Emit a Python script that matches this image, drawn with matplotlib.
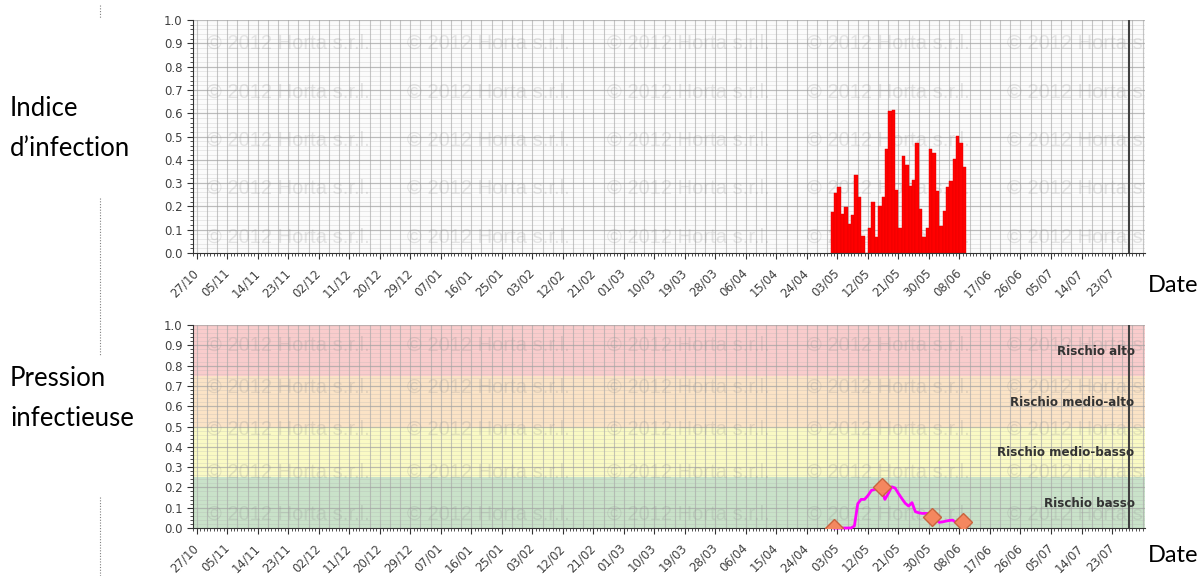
import matplotlib
matplotlib.use("Agg")
import matplotlib.pyplot as plt
import matplotlib.dates as mdates
import numpy as np
from matplotlib.lines import Line2D
from datetime import datetime, timedelta

# ---- data ----
bar_start = "2012-05-01"
infection_index = [0.177, 0.259, 0.282, 0.166, 0.196, 0.124, 0.164, 0.333, 0.240, 0.073,
                   0.0, 0.107, 0.220, 0.070, 0.200, 0.240, 0.445, 0.610, 0.614, 0.270,
                   0.107, 0.418, 0.376, 0.288, 0.313, 0.471, 0.190, 0.069, 0.107, 0.445,
                   0.430, 0.267, 0.116, 0.180, 0.282, 0.308, 0.405, 0.503, 0.471, 0.370]

line_start = "2012-05-02"
pressure = [0.0, 0.0, 0.0, 0.0, 0.0, 0.0, 0.01, 0.12, 0.141, 0.141,
            0.16, 0.185, 0.19, 0.195, 0.19, 0.141, 0.17, 0.203, 0.197, 0.17,
            0.145, 0.122, 0.108, 0.125, 0.08, 0.075, 0.072, 0.072, 0.072, 0.06,
            0.045, 0.028, 0.03, 0.034, 0.037, 0.039, 0.026, 0.028, 0.031]

marker_dates = ["2012-05-02", "2012-05-16", "2012-05-31", "2012-06-09"]
marker_values = [0.0, 0.20, 0.055, 0.031]

risk_labels = ["Rischio basso", "Rischio medio-basso", "Rischio medio-alto", "Rischio alto"]
risk_colors = ["#c9e2c9", "#fafac4", "#fbe3c6", "#f9cccc"]

first_tick = "2011-10-27"
now_date = "2012-07-28"
watermark = "© 2012 Horta s.r.l."

# ---- layout ----
fig = plt.figure(figsize=(11.98, 5.76), dpi=100)
ax1 = fig.add_axes([193/1198, 1 - 253/576, 952/1198, 233/576])
ax2 = fig.add_axes([193/1198, 1 - 528/576, 952/1198, 203/576])

t0 = datetime.strptime(first_tick, "%Y-%m-%d")
x_left = mdates.date2num(t0) - 1.1
x_right = x_left + 952 / 3.39

label_ticks = [mdates.date2num(t0 + timedelta(days=9 * k)) for k in range(31)]
grid_ticks = np.arange(mdates.date2num(t0), x_right, 3)
day_ticks = np.arange(np.ceil(x_left), x_right, 1)


def style(ax):
    ax.set_xlim(x_left, x_right)
    ax.set_ylim(0, 1.0)
    ax.set_axisbelow(True)
    for s in ["top", "right"]:
        ax.spines[s].set_visible(False)
    ax.spines["left"].set_color("#333333")
    ax.spines["bottom"].set_color("#333333")
    ax.set_yticks(np.round(np.arange(0, 1.01, 0.1), 1))
    ax.set_yticks(np.arange(0, 1.001, 0.02), minor=True)
    ax.yaxis.set_major_formatter(matplotlib.ticker.FormatStrFormatter("%.1f"))
    ax.set_xticks(label_ticks)
    ax.set_xticklabels([mdates.num2date(v).strftime("%d/%m") for v in label_ticks],
                       rotation=45, ha="right", va="center", rotation_mode="anchor")
    ax.set_xticks(day_ticks, minor=True)
    ax.tick_params(axis="both", which="major", labelsize=8.5, labelcolor="#404040",
                   color="#333333", length=4, width=0.8)
    ax.tick_params(axis="both", which="minor", color="#333333", length=2, width=0.6)
    ax.tick_params(axis="x", which="major", pad=9)
    ax.grid(False)
    for v in grid_ticks:
        ax.axvline(v, color="#a8a8a8", lw=0.8, alpha=0.65, zorder=0.5)
    for v in np.arange(0.02, 1.001, 0.02):
        ax.axhline(v, color="#b0b0b0", lw=0.5, alpha=0.35, zorder=0.5)
    for v in np.arange(0.1, 1.001, 0.1):
        ax.axhline(v, color="#a0a0a0", lw=0.9, alpha=0.6, zorder=0.5)
    for i in range(5):
        for k in range(5):
            ax.text(0.0147 + 0.21 * k, 0.9 - 0.208 * i, watermark, transform=ax.transAxes,
                    fontsize=14.5, color="#909090", alpha=0.22, ha="left", va="center",
                    family="Liberation Sans", zorder=0.6, clip_on=True)
    ax.axvline(mdates.date2num(datetime.strptime(now_date, "%Y-%m-%d")),
               color="#404040", lw=1.5, zorder=3)


ax1.set_facecolor("#fbfbfb")
style(ax1)
bar_x = mdates.date2num(datetime.strptime(bar_start, "%Y-%m-%d")) + np.arange(len(infection_index))
ax1.bar(bar_x, infection_index, width=1.0, align="edge", color="#ff0000",
        edgecolor="#e00000", linewidth=0.3, zorder=2)

style(ax2)
for i, c in enumerate(risk_colors):
    ax2.axhspan(0.25 * i, 0.25 * (i + 1), color=c, zorder=0.2, lw=0)
    ax2.text(0.989, 0.25 * i + 0.12, risk_labels[i], transform=ax2.transAxes,
             ha="right", va="center", fontsize=8.6, fontweight="bold", color="#333333", zorder=4)
line_x = mdates.date2num(datetime.strptime(line_start, "%Y-%m-%d")) + np.arange(len(pressure))
ax2.plot(line_x, pressure, color="#ff00ff", lw=2, zorder=3, clip_on=False)
mx = [mdates.date2num(datetime.strptime(d, "%Y-%m-%d")) for d in marker_dates]
ax2.plot(mx, marker_values, linestyle="none", marker="D", markersize=9,
         markerfacecolor="#f4875f", markeredgecolor="#c8643e", markeredgewidth=1, zorder=4)

# ---- page texts ----
fig.text(10/1198, 1 - 128/576, "Indice\nd’infection", fontsize=18.5, family="Lato",
         va="center", ha="left", linespacing=1.75)
fig.text(10/1198, 1 - 398/576, "Pression\ninfectieuse", fontsize=18.5, family="Lato",
         va="center", ha="left", linespacing=1.75)
fig.text(1148/1198, 1 - 285/576, "Date", fontsize=17, family="Lato", va="center", ha="left")
fig.text(1148/1198, 1 - 555/576, "Date", fontsize=17, family="Lato", va="center", ha="left")

for y0, y1 in [(5, 18), (198, 356), (497, 576)]:
    fig.add_artist(Line2D([100/1198, 100/1198], [1 - y0/576, 1 - y1/576],
                          transform=fig.transFigure, color="#808080", lw=0.8, linestyle=(0, (1, 1.5))))

fig.savefig("out.png", dpi=100)
